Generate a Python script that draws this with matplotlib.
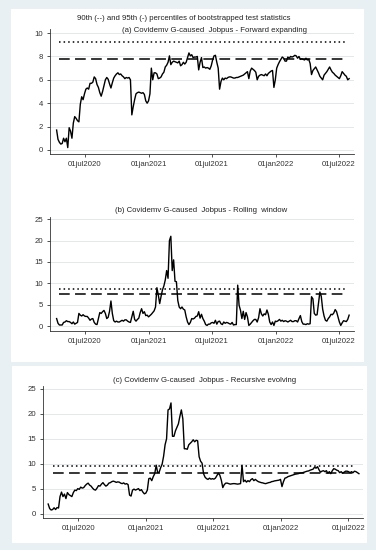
import numpy as np
import pandas as pd
import matplotlib
matplotlib.use('Agg')
import matplotlib.pyplot as plt
import matplotlib.dates as mdates
from matplotlib.patches import Rectangle

plt.rcParams['font.family'] = ['Liberation Sans', 'DejaVu Sans']

# ── data: test statistic sampled every 4 days from 11 Apr 2020 ────
start_date = '2020-04-11'

forward = [1.7, 0.9, 0.65, 0.5, 0.55, 1.0, 0.7, 1.0, 0.2, 1.9, 1.6, 1.0, 2.3, 2.85, 2.7, 2.5, 2.4,
           3.9, 4.55, 4.3, 4.8, 5.2, 5.3, 5.2, 5.7, 5.7, 5.8, 6.25, 6.1, 5.6, 5.35, 4.9, 4.6, 5.0,
           5.5, 6.0, 6.2, 6.05, 5.65, 5.3, 5.75, 6.15, 6.35, 6.5, 6.6, 6.45, 6.5, 6.35, 6.25, 6.1,
           6.2, 6.15, 6.2, 6.0, 3.0, 3.7, 4.3, 4.8, 4.9, 4.95, 4.9, 4.85, 4.9, 4.75, 4.2, 4.0, 4.2,
           4.8, 7.0, 6.0, 6.6, 6.6, 6.5, 6.1, 6.15, 6.25, 6.5, 6.65, 7.1, 7.25, 7.5, 8.05, 7.3, 7.5,
           7.6, 7.55, 7.5, 7.45, 7.6, 7.2, 7.3, 7.5, 7.35, 7.5, 7.9, 8.3, 8.05, 8.15, 7.9, 7.95,
           7.95, 8.0, 6.85, 7.5, 7.9, 7.05, 7.1, 7.0, 7.05, 7.0, 6.9, 7.2, 7.7, 8.05, 8.1, 7.5, 7.0,
           5.2, 5.85, 6.15, 6.0, 6.15, 6.1, 6.2, 6.25, 6.25, 6.2, 6.15, 6.15, 6.2, 6.2, 6.25, 6.3,
           6.35, 6.4, 6.5, 6.6, 6.7, 6.1, 6.75, 7.0, 6.9, 6.8, 6.65, 6.0, 6.3, 6.4, 6.45, 6.4, 6.35,
           6.5, 6.35, 6.55, 6.65, 6.75, 6.8, 5.35, 6.0, 7.0, 7.3, 7.55, 7.75, 7.95, 7.85, 7.6, 7.6,
           7.95, 7.85, 8.0, 7.95, 8.0, 8.1, 8.05, 7.85, 8.0, 7.75, 7.8, 7.75, 7.7, 7.85, 7.7, 7.75,
           7.4, 6.45, 6.8, 6.95, 7.1, 6.85, 6.6, 6.3, 6.15, 6.0, 6.4, 6.55, 6.7, 6.9, 7.1, 6.85,
           6.65, 6.55, 6.4, 6.3, 6.2, 6.1, 6.35, 6.7, 6.55, 6.4, 6.3, 6.0, 6.1]

rolling = [1.8, 0.7, 0.3, 0.3, 0.3, 0.9, 1.0, 1.3, 1.1, 1.1, 0.9, 0.6, 1.0, 0.5, 0.7, 0.9, 3.0,
           2.6, 2.4, 2.7, 2.4, 2.3, 2.3, 1.9, 1.4, 1.7, 1.8, 0.9, 0.5, 0.4, 1.8, 3.2, 3.0, 3.4, 3.7,
           3.0, 1.8, 2.1, 3.5, 5.9, 3.0, 1.3, 1.0, 1.2, 1.0, 1.0, 1.2, 1.4, 1.2, 1.5, 1.5, 1.2, 1.0,
           0.9, 2.2, 3.5, 1.6, 1.2, 1.6, 1.9, 3.2, 4.1, 3.0, 3.4, 2.5, 2.6, 2.2, 2.5, 2.8, 3.2, 3.6,
           4.5, 9.0, 7.3, 5.3, 7.0, 8.5, 9.4, 10.8, 13.0, 11.2, 20.0, 21.0, 13.0, 15.5, 10.5, 10.4,
           6.0, 4.5, 4.1, 4.5, 4.0, 3.8, 2.2, 1.0, 0.4, 0.9, 1.8, 1.7, 1.9, 2.3, 2.4, 3.4, 1.9, 2.8,
           1.8, 1.2, 0.4, 0.2, 0.5, 0.5, 0.8, 0.9, 0.7, 1.4, 0.5, 1.1, 1.2, 0.6, 0.4, 1.0, 0.7, 0.9,
           0.8, 0.6, 0.5, 0.9, 0.3, 0.4, 0.4, 9.6, 4.9, 3.75, 1.8, 3.5, 1.6, 3.2, 2.2, 0.2, 0.5, 0.9,
           1.3, 1.6, 1.6, 1.0, 2.0, 4.1, 2.9, 2.4, 2.9, 2.7, 3.8, 2.8, 1.0, 0.4, 1.0, 0.2, 1.2, 1.1,
           1.3, 1.6, 1.2, 1.4, 1.1, 1.3, 1.2, 1.0, 1.2, 1.4, 1.1, 1.1, 1.3, 1.3, 1.0, 1.8, 2.5, 1.1,
           0.5, 0.5, 0.4, 0.6, 0.5, 0.6, 6.9, 6.4, 3.0, 2.6, 2.7, 5.3, 8.0, 7.0, 4.0, 2.4, 1.4, 1.2,
           1.8, 2.2, 2.8, 2.7, 3.1, 3.9, 3.4, 2.2, 1.0, 0.2, 0.8, 1.3, 1.2, 1.1, 1.6, 2.6]

recursive = [1.9, 1.0, 0.7, 0.8, 1.15, 0.8, 1.2, 1.1, 3.4, 4.3, 3.4, 3.9, 3.0, 4.2, 3.8, 3.6, 3.4,
             4.2, 4.7, 4.6, 5.0, 4.85, 5.3, 5.1, 5.2, 5.6, 5.9, 6.1, 5.7, 5.5, 5.1, 4.8, 4.7, 5.1,
             5.6, 5.5, 5.9, 6.2, 5.8, 5.5, 5.7, 6.1, 6.2, 6.4, 6.5, 6.4, 6.25, 6.35, 6.3, 6.1, 6.0,
             6.15, 5.9, 6.0, 5.8, 3.7, 3.5, 4.7, 4.9, 4.7, 4.85, 5.0, 4.6, 4.8, 4.3, 3.95, 4.1, 4.7,
             7.0, 7.1, 6.6, 7.4, 8.0, 9.7, 8.2, 8.3, 9.2, 9.9, 11.5, 13.8, 15.0, 20.8, 21.0, 22.2,
             15.5, 15.5, 16.6, 17.3, 18.0, 19.5, 20.8, 19.0, 13.0, 13.0, 12.9, 13.8, 14.1, 14.4,
             14.8, 14.4, 14.7, 14.6, 11.4, 10.5, 10.1, 8.0, 7.3, 7.0, 6.85, 7.1, 6.9, 7.0, 6.9, 7.1,
             7.6, 8.1, 7.7, 6.7, 5.2, 5.8, 6.1, 6.1, 6.0, 5.9, 5.95, 6.0, 6.0, 5.95, 5.9, 5.95, 6.0,
             9.7, 6.4, 6.7, 6.3, 6.6, 6.4, 6.8, 7.0, 6.6, 6.85, 6.6, 6.4, 6.3, 6.2, 6.15, 6.05, 6.0,
             6.1, 6.2, 6.25, 6.4, 6.45, 6.55, 6.6, 6.65, 6.7, 6.85, 5.4, 6.4, 7.1, 7.2, 7.4, 7.5,
             7.6, 7.7, 7.8, 7.9, 7.95, 8.0, 8.1, 8.15, 8.2, 8.3, 8.4, 8.5, 8.55, 8.7, 8.8, 8.9, 9.3,
             9.1, 9.4, 8.8, 8.3, 8.5, 8.6, 8.4, 8.6, 8.1, 8.4, 8.0, 8.6, 9.0, 8.9, 8.7, 8.6, 8.2,
             8.4, 8.1, 8.3, 8.5, 8.5, 8.4, 8.2, 8.4, 8.2, 8.5, 8.4, 8.2, 8.0]

# critical values: 95th (dotted) and 90th (dashed)
cv95 = [9.2, 8.8, 9.6]
cv90 = [7.8, 7.6, 8.2]

titles = ['(a) Covidemv G-caused  Jobpus - Forward expanding',
          '(b) Covidemv G-caused  Jobpus - Rolling  window',
          '(c) Covidemv G-caused  Jobpus - Recursive evolving']
top_title = '90th (--) and 95th (-) percentiles of bootstrapped test statistics'

tick_dates = ['2020-07-01', '2021-01-01', '2021-07-01', '2022-01-01', '2022-07-01']
tick_labels = ['01jul2020', '01jan2021', '01jul2021', '01jan2022', '01jul2022']
yticks = [[0, 2, 4, 6, 8, 10], [0, 5, 10, 15, 20, 25], [0, 5, 10, 15, 20, 25]]

# ── figure ───────────────────────────────────────────────────────
W, H = 376, 550
fig = plt.figure(figsize=(W / 100, H / 100), dpi=100)
fig.patch.set_facecolor('#e8f0f3')


def box(x0, y0, x1, y1):
    return [x0 / W, 1 - y1 / H, (x1 - x0) / W, (y1 - y0) / H]


for (x0, y0, x1, y1) in [(11, 9, 364, 362), (12, 366, 367, 543)]:
    fig.patches.append(Rectangle((x0 / W, 1 - y1 / H), (x1 - x0) / W, (y1 - y0) / H,
                                 transform=fig.transFigure, facecolor='white',
                                 edgecolor='none', zorder=-5))

ax_boxes = [box(50, 29, 354, 154), box(50, 217, 354, 331), box(43, 386, 363, 518)]
ylims = [(-0.35, 10.35), (-1.1, 25.5), (-0.9, 25.6)]
xlims = [('2020-03-23', '2022-08-13'), ('2020-03-23', '2022-08-13'),
         ('2020-03-28', '2022-08-10')]
series = [forward, rolling, recursive]
title_pos = [(215, 30), (201, 210), (205, 380)]

for k in range(3):
    ax = fig.add_axes(ax_boxes[k])
    ax.set_facecolor('none')
    dates = pd.date_range(start_date, periods=len(series[k]), freq='4D')
    ax.plot(dates, series[k], color='black', lw=1.0, zorder=3)
    ax.axhline(cv95[k], color='black', lw=1.1, ls=(0, (1, 2)),
               xmin=0.03, xmax=0.97, zorder=2)
    ax.axhline(cv90[k], color='black', lw=1.1, ls=(0, (7, 3.5)),
               xmin=0.03, xmax=0.97, zorder=2)
    ax.set_ylim(*ylims[k])
    ax.set_xlim(pd.Timestamp(xlims[k][0]), pd.Timestamp(xlims[k][1]))
    ax.set_yticks(yticks[k])
    ax.set_xticks(pd.to_datetime(tick_dates))
    ax.set_xticklabels(tick_labels)
    ax.grid(axis='y', color='#e3e8ea', lw=0.7, zorder=0)
    ax.tick_params(labelsize=5.6, length=2.5, width=0.6, colors='#333333', pad=2.5)
    for s in ['top', 'right']:
        ax.spines[s].set_visible(False)
    for s in ['left', 'bottom']:
        ax.spines[s].set_color('#333333')
        ax.spines[s].set_linewidth(0.6)
    fig.text(title_pos[k][0] / W, 1 - title_pos[k][1] / H, titles[k],
             ha='center', va='center', fontsize=5.6, color='#222222')

fig.text(184 / W, 1 - 19 / H, top_title, ha='center', va='center',
         fontsize=5.6, color='#222222')

fig.savefig('out.png', dpi=100, facecolor=fig.get_facecolor())
